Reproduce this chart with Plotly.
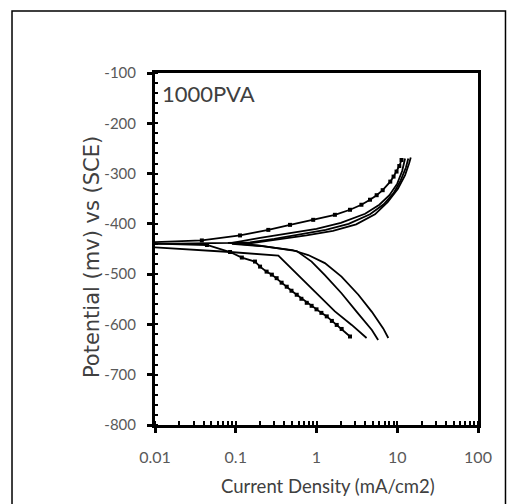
import plotly.graph_objects as go

# ---- data (current density mA/cm2, potential mV vs SCE) ----
curve1_current = [2.6, 2.05, 1.78, 1.55, 1.34, 1.15, 1.0, 0.87, 0.757, 0.65, 0.569, 0.49, 0.428,
                  0.37, 0.321, 0.28, 0.241, 0.2, 0.173, 0.119, 0.085, 0.044, 0.005,
                  0.038, 0.113, 0.253, 0.47, 0.91, 1.69, 2.6, 3.6, 4.6, 5.56, 6.6,
                  8.2, 9.0, 9.8, 10.6, 11.3]
curve1_potential = [-624, -609, -601, -593, -584, -577, -570, -563, -557, -549, -541, -533, -525,
                    -517, -508, -501, -495, -485, -475, -467, -456, -442, -438,
                    -433, -423, -412, -402, -392, -382, -372, -362, -352, -343, -333,
                    -316, -306, -296, -285, -273]

curve2_current = [4.17, 2.73, 1.69, 1.16, 0.79, 0.49, 0.337, 0.085, 0.01, 0.004,
                  0.01, 0.05, 0.09, 0.2, 0.5, 1.0, 2.0, 4.0, 6.0, 8.0, 10.0, 11.5, 12.5]
curve2_potential = [-627, -601, -574, -548, -521, -488, -463, -456, -446, -443,
                    -440, -439, -438, -428, -418, -410, -398, -380, -362, -343, -320, -295, -270]

curve3_current = [5.8, 4.85, 3.15, 2.04, 1.27, 0.87, 0.57, 0.19, 0.08,
                  0.15, 0.3, 0.65, 1.3, 2.5, 4.6, 6.8, 9.0, 11.0, 12.8, 13.7]
curve3_potential = [-631, -611, -575, -538, -502, -475, -454, -443, -438,
                    -437, -430, -420, -412, -400, -381, -361, -339, -314, -288, -270]

curve4_current = [7.75, 6.7, 4.85, 3.3, 2.04, 1.27, 0.79, 0.5, 0.2, 0.09,
                  0.15, 0.32, 0.75, 1.6, 3.1, 5.3, 7.6, 10.2, 12.5, 14.0, 14.7]
curve4_potential = [-627, -608, -575, -541, -505, -478, -462, -452, -444, -440,
                    -439, -432, -423, -414, -401, -381, -357, -330, -303, -280, -268]

x_tick_values = [0.01, 0.1, 1, 10, 100]
x_tick_labels = ["0.01", "0.1", "1", "10", "100"]
y_tick_values = [-800, -700, -600, -500, -400, -300, -200, -100]
y_tick_labels = ["-800", "-700", "-600", "-500", "-400", "-300", "-200", "-100"]

label_text = "1000PVA"
x_title = "Current Density (mA/cm2)"
y_title = "Potential (mv) vs (SCE)"

NARROW = "Lato, Liberation Sans Narrow, sans-serif"
WIDE = "DejaVu Sans, Verdana, sans-serif"

fig = go.Figure()
line_style = dict(color="black", width=1.8)
fig.add_trace(go.Scatter(x=curve2_current, y=curve2_potential, mode="lines", line=line_style))
fig.add_trace(go.Scatter(x=curve3_current, y=curve3_potential, mode="lines", line=line_style))
fig.add_trace(go.Scatter(x=curve4_current, y=curve4_potential, mode="lines", line=line_style))
fig.add_trace(go.Scatter(x=curve1_current, y=curve1_potential, mode="lines+markers",
                         line=line_style,
                         marker=dict(symbol="square", size=4, color="black")))

fig.update_layout(
    width=507, height=504,
    margin=dict(l=155, r=29, t=73, b=79),
    paper_bgcolor="white", plot_bgcolor="white",
    showlegend=False,
)

fig.update_xaxes(
    type="log", range=[-2, 2],
    tickvals=x_tick_values, ticktext=x_tick_labels,
    showgrid=False, zeroline=False,
    showline=True, linecolor="black", linewidth=3, mirror=True,
    ticks="outside", ticklen=5, tickwidth=3, tickcolor="black",
    minor=dict(ticks="inside", ticklen=4, tickwidth=2, tickcolor="black", dtick="D1", showgrid=False),
    tickfont=dict(family=NARROW, size=16, color="#595959"),
    ticklabelstandoff=11,
)
fig.update_yaxes(
    range=[-800, -100],
    tickvals=y_tick_values, ticktext=y_tick_labels,
    showgrid=False, zeroline=False,
    showline=True, linecolor="black", linewidth=3, mirror=True,
    ticks="outside", ticklen=5, tickwidth=3, tickcolor="black",
    minor=dict(ticks="inside", ticklen=3, tickwidth=2, tickcolor="black", dtick=20, showgrid=False),
    tickfont=dict(family=NARROW, size=15, color="#595959"),
    ticklabelstandoff=8,
)

# axis titles
fig.add_annotation(
    text=x_title, xref="paper", yref="paper", x=0.536, y=-0.173,
    xanchor="center", yanchor="middle", showarrow=False,
    font=dict(family=NARROW, size=18.5, color="#404040"),
)
fig.add_annotation(
    text=y_title, xref="paper", yref="paper", x=-0.195, y=0.477,
    xanchor="center", yanchor="middle", showarrow=False, textangle=-90,
    font=dict(family=WIDE, size=21, color="#404040"),
)

fig.add_annotation(
    text=label_text, xref="paper", yref="paper", x=0.015, y=0.985,
    xanchor="left", yanchor="top", showarrow=False,
    font=dict(family=NARROW, size=22, color="#404040"),
)

# outer frame around the whole picture
fig.add_shape(type="rect", xref="paper", yref="paper",
              x0=-0.4427, x1=1.0851, y0=-0.2301, y1=1.1761,
              line=dict(color="black", width=1.5), layer="below")

fig.write_html("out.html", config={"displayModeBar": False},
               post_script="document.body.style.margin='0';")
